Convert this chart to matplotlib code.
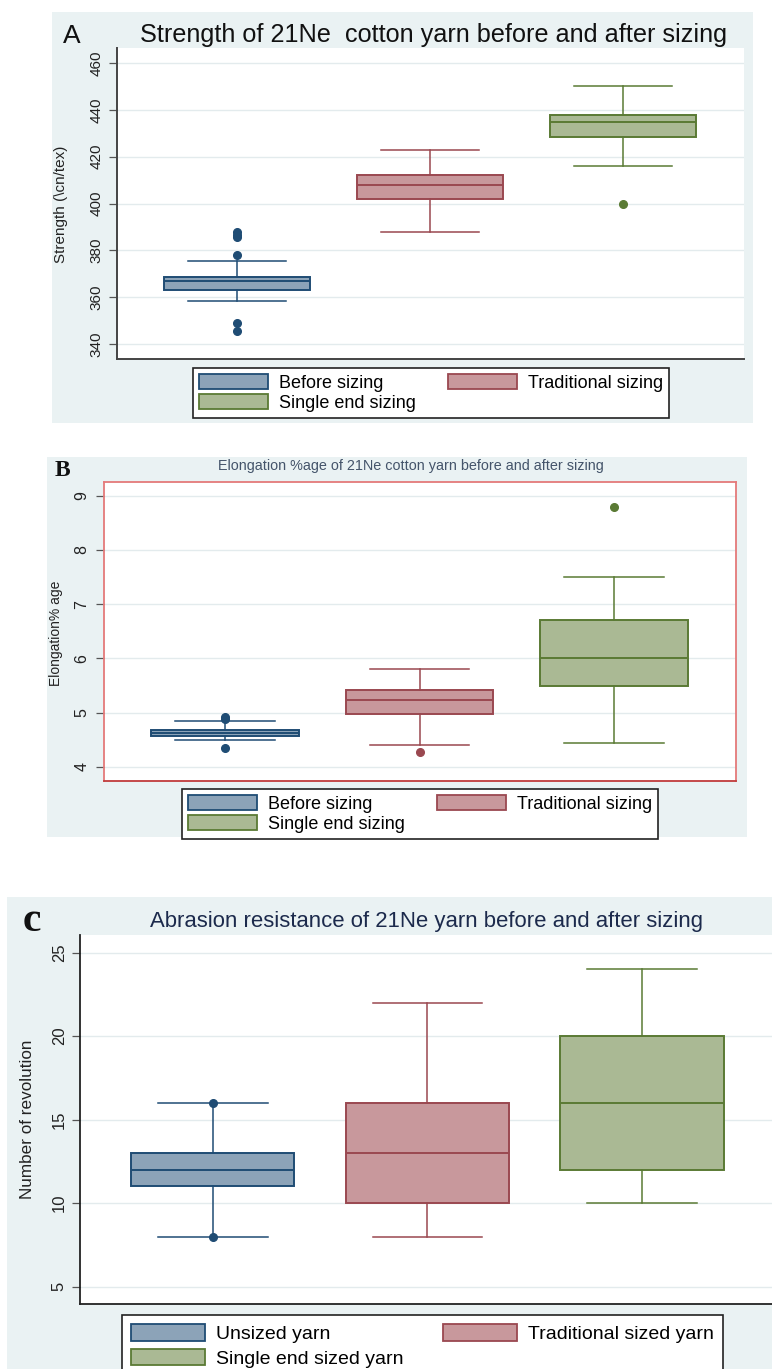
# box plots of 21Ne yarn before / after sizing (three panels)
import matplotlib
matplotlib.use('Agg')
import matplotlib.pyplot as plt
from matplotlib.patches import Rectangle, Patch

plt.rcParams['font.family'] = ['Liberation Sans', 'DejaVu Sans']

# --- data ---
positions = [1, 2, 3]

# A: strength (cn/tex)
a_q1 = [363.0, 402.0, 428.5]
a_med = [367.0, 408.0, 435.0]
a_q3 = [368.5, 412.0, 438.0]
a_lo = [358.5, 388.0, 416.0]
a_hi = [375.5, 423.0, 450.0]
a_fliers = [[378.0, 385.5, 386.5, 387.8, 349.0, 345.7], [], [400.0]]
a_labels = ['Before sizing', 'Traditional sizing', 'Single end sizing']
a_ticks = [340, 360, 380, 400, 420, 440, 460]

# B: elongation %
b_q1 = [4.57, 4.98, 5.50]
b_med = [4.63, 5.24, 6.00]
b_q3 = [4.69, 5.41, 6.70]
b_lo = [4.50, 4.40, 4.45]
b_hi = [4.85, 5.80, 7.50]
b_fliers = [[4.88, 4.92, 4.35], [4.28], [8.80]]
b_labels = ['Before sizing', 'Traditional sizing', 'Single end sizing']
b_ticks = [4, 5, 6, 7, 8, 9]

# C: abrasion resistance (number of revolutions)
c_q1 = [11, 10, 12]
c_med = [12, 13, 16]
c_q3 = [13, 16, 20]
c_lo = [8, 8, 10]
c_hi = [16, 22, 24]
c_fliers = [[16, 8], [], []]
c_labels = ['Unsized yarn', 'Traditional sized yarn', 'Single end sized yarn']
c_ticks = [5, 10, 15, 20, 25]

# --- styling ---
W, H = 772, 1369
BG = '#eaf2f3'
GRID = '#e3ebed'
edge_cols = ['#1f4c74', '#9a4850', '#5a7a34']
fill_cols = ['#8ca3b8', '#c8989c', '#aab994']


def fx(px):
    return px / W


def fy(py):
    return 1 - py / H


def rect(x0, y0, x1, y1):
    # pixel box (top-left origin) -> figure fraction rect
    return [fx(x0), fy(y1), fx(x1) - fx(x0), (y1 - y0) / H]


def draw_boxes(ax, q1, med, q3, lo, hi, fliers):
    stats = []
    for i in range(3):
        stats.append(dict(q1=q1[i], med=med[i], q3=q3[i], whislo=lo[i],
                          whishi=hi[i], fliers=fliers[i]))
    res = ax.bxp(stats, positions=positions, widths=0.76, capwidths=0.51,
                 patch_artist=True, manage_ticks=False)
    for i in range(3):
        ec, fc = edge_cols[i], fill_cols[i]
        res['boxes'][i].set(facecolor=fc, edgecolor=ec, linewidth=1.4, zorder=3)
        res['medians'][i].set(color=ec, linewidth=1.4, zorder=4)
        for ln in res['whiskers'][2 * i:2 * i + 2] + res['caps'][2 * i:2 * i + 2]:
            ln.set(color=ec, linewidth=1.1, zorder=3)
        res['fliers'][i].set(marker='o', markerfacecolor=ec, markeredgecolor=ec,
                             markersize=5.5, zorder=4)


def style_axis(ax, ticks, ylim, fs, pad):
    ax.set_xlim(0.378, 3.627)
    ax.set_ylim(*ylim)
    ax.set_xticks([])
    ax.set_yticks(ticks)
    ax.tick_params(axis='y', length=5.5, width=0.9, color='#555555', pad=pad,
                   labelsize=fs, labelcolor='#222222')
    for lab in ax.get_yticklabels():
        lab.set_rotation(90)
        lab.set_va('center')
    for t in ticks:
        ax.axhline(t, color=GRID, linewidth=1.0, zorder=1)


def add_legend(ax, labels, x, y, fs, hlen, colsp, hh=0.85, lsp=0.15, bpad=0.35):
    handles = [Patch(facecolor=fill_cols[i], edgecolor=edge_cols[i], linewidth=1.3)
               for i in range(3)]
    order = [0, 2, 1]
    leg = ax.legend([handles[i] for i in order], [labels[i] for i in order],
                    ncol=2, loc='upper left', bbox_to_anchor=(fx(x), fy(y)),
                    bbox_transform=fig.transFigure, borderaxespad=0,
                    fontsize=fs, frameon=True, fancybox=False, framealpha=1,
                    handlelength=hlen, handleheight=hh, handletextpad=0.6,
                    columnspacing=colsp, labelspacing=lsp, borderpad=bpad)
    leg.get_frame().set_edgecolor('#222222')
    leg.get_frame().set_linewidth(1.2)
    return leg


fig = plt.figure(figsize=(W / 100, H / 100), dpi=100)

# panel backgrounds
for (x0, y0, x1, y1) in [(52, 12, 753, 423), (47, 457, 747, 837), (7, 897, 772, 1369)]:
    r = rect(x0, y0, x1, y1)
    fig.add_artist(Rectangle((r[0], r[1]), r[2], r[3], transform=fig.transFigure,
                             facecolor=BG, edgecolor='none', zorder=-1))

# ---------- A ----------
axA = fig.add_axes(rect(117, 48, 744, 359))
draw_boxes(axA, a_q1, a_med, a_q3, a_lo, a_hi, a_fliers)
style_axis(axA, a_ticks, (333.6, 466.4), 11, 4)
for s in ['top', 'right']:
    axA.spines[s].set_visible(False)
for s in ['left', 'bottom']:
    axA.spines[s].set_color('#444444')
    axA.spines[s].set_linewidth(1.4)
fig.text(fx(434), fy(35), 'Strength of 21Ne  cotton yarn before and after sizing',
         ha='center', va='center', fontsize=18.2, color='#111111')
fig.text(fx(72), fy(36), 'A', ha='center', va='center', fontsize=19, color='#111111')
fig.text(fx(61), fy(204), 'Strength (\\cn/tex)', rotation=90, ha='center', va='center',
         fontsize=11, color='#222222')
add_legend(axA, a_labels, 193, 368, 13, 3.8, 1.8)

# ---------- B ----------
axB = fig.add_axes(rect(104, 482, 736, 781))
draw_boxes(axB, b_q1, b_med, b_q3, b_lo, b_hi, b_fliers)
style_axis(axB, b_ticks, (3.742, 9.252), 11.5, 5)
for s in ['top', 'left', 'right']:
    axB.spines[s].set_color('#e47a7a')
    axB.spines[s].set_linewidth(1.3)
axB.spines['bottom'].set_color('#c03c3c')
axB.spines['bottom'].set_linewidth(1.3)
fig.text(fx(411), fy(466), 'Elongation %age of 21Ne cotton yarn before and after sizing',
         ha='center', va='center', fontsize=10.4, color='#44546a')
fig.text(fx(62), fy(470), 'B', ha='center', va='center', fontsize=17,
         family=['Liberation Serif', 'DejaVu Serif'], weight='bold', color='#111111')
fig.text(fx(56), fy(633), 'Elongation% age', rotation=90, ha='center', va='center',
         fontsize=10, color='#222222')
add_legend(axB, b_labels, 182, 789, 13, 3.8, 1.8)

# ---------- C ----------
axC = fig.add_axes(rect(80, 935, 774, 1304))
draw_boxes(axC, c_q1, c_med, c_q3, c_lo, c_hi, c_fliers)
style_axis(axC, c_ticks, (3.96, 26.06), 12, 4)
axC.set_xlim(0.381, 3.615)
for s in ['top', 'right']:
    axC.spines[s].set_visible(False)
for s in ['left', 'bottom']:
    axC.spines[s].set_color('#222222')
    axC.spines[s].set_linewidth(1.3)
fig.text(fx(427), fy(922), 'Abrasion resistance of 21Ne yarn before and after sizing',
         ha='center', va='center', fontsize=15.9, color='#1c2a4c')
fig.text(fx(32), fy(921), 'c', ha='center', va='center', fontsize=30,
         family=['Liberation Serif', 'DejaVu Serif'], weight='bold', color='#111111')
fig.text(fx(28), fy(1119), 'Number of revolution', rotation=90, ha='center', va='center',
         fontsize=12.3, color='#222222')
add_legend(axC, c_labels, 122, 1315, 14, 3.8, 2.0, hh=0.95, lsp=0.3, bpad=0.45)

fig.savefig('out.png', dpi=100)
